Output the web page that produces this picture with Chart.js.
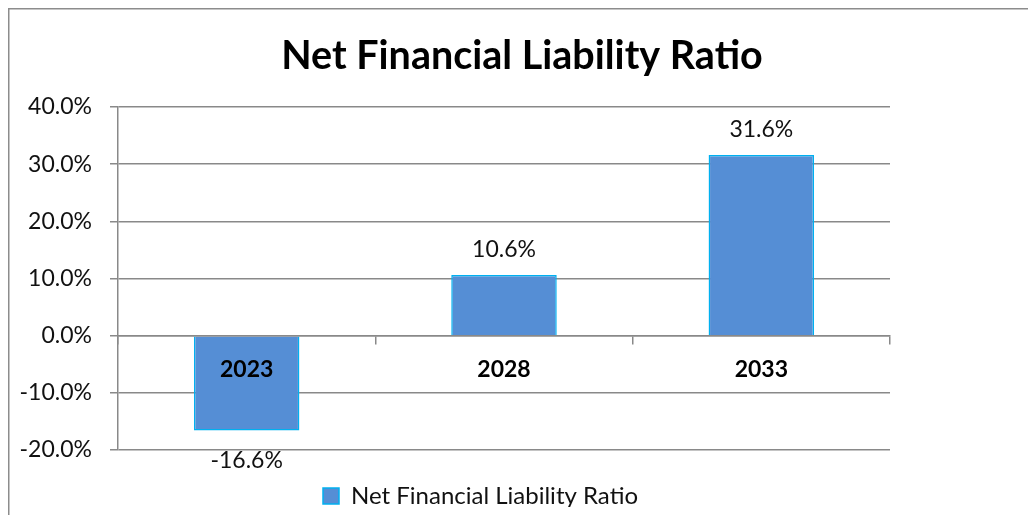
<!DOCTYPE html>
<html>
<head>
<meta charset="utf-8">
<script src="https://cdn.jsdelivr.net/npm/chart.js@4/dist/chart.umd.min.js"></script>
<style>
  html, body { margin: 0; padding: 0; overflow: hidden; background: #fff; }
  #wrap { position: absolute; left: 8px; top: 8px; width: 1028px; height: 515px; }
  canvas { display: block; }
</style>
</head>
<body>
<div id="wrap"><canvas id="chart" width="1028" height="515"></canvas></div>
<script>
// Chart content
const chartTitle = 'Net Financial Liability Ratio';
const seriesName = 'Net Financial Liability Ratio';
const categories = ['2023', '2028', '2033'];
const ratioValues = [-16.6, 10.6, 31.6];          // percent
const yTickValues = [-20, -10, 0, 10, 20, 30, 40]; // percent

const GRID = '#898989';
const FONT = 'Lato, "Open Sans", sans-serif';
const fmtPct = v => v.toFixed(1) + '%';

// Thin grey frame along the top and left edges of the chart box
const framePlugin = {
  id: 'frame',
  beforeDraw(chart) {
    const ctx = chart.ctx;
    ctx.save();
    ctx.strokeStyle = '#8c8c8c';
    ctx.lineWidth = 1.5;
    ctx.beginPath();
    ctx.moveTo(0.75, chart.height);
    ctx.lineTo(0.75, 0.75);
    ctx.lineTo(chart.width, 0.75);
    ctx.stroke();
    ctx.restore();
  }
};

// Keep title centred on the whole box and put the legend under the plot
const placementPlugin = {
  id: 'placement',
  afterLayout(chart) {
    const t = chart.titleBlock;
    if (t) { t.left = 0; t.right = chart.width; t.width = chart.width; }
    const lg = chart.legend;
    if (lg) {
      const pad = lg.options.labels.padding;
      const itemW = lg.lineWidths[0] - pad;
      const boxLeft = 315;
      const w = lg.width;
      lg.left = (2 * boxLeft + itemW - w) / 2;
      lg.right = lg.left + w;
      const h = lg.height;
      lg.top = 476 - pad;
      lg.bottom = lg.top + h;
    }
  }
};

// Value labels above positive bars and below negative bars
const valueLabelPlugin = {
  id: 'valueLabels',
  afterDatasetsDraw(chart) {
    const ctx = chart.ctx;
    const meta = chart.getDatasetMeta(0);
    const data = chart.data.datasets[0].data;
    ctx.save();
    ctx.font = '23px ' + FONT;
    ctx.fillStyle = '#111';
    ctx.textAlign = 'center';
    ctx.textBaseline = 'alphabetic';
    meta.data.forEach((bar, i) => {
      const v = data[i];
      const y = v >= 0 ? bar.y - 18 : bar.y + 37;
      ctx.fillText(fmtPct(v), bar.x, y);
    });
    ctx.restore();
  }
};

new Chart(document.getElementById('chart'), {
  type: 'bar',
  data: {
    labels: categories,
    datasets: [{
      label: seriesName,
      data: ratioValues,
      backgroundColor: '#558ED5',
      borderColor: '#00B0F0',
      borderWidth: 1.5,
      categoryPercentage: 1,
      barPercentage: 0.41
    }]
  },
  options: {
    responsive: false,
    animation: false,
    devicePixelRatio: 1,
    layout: { padding: { left: 0, right: 146, top: 0, bottom: 0 } },
    plugins: {
      title: {
        display: true,
        text: chartTitle,
        color: '#000',
        font: { family: FONT, size: 39.5, weight: 'bold' },
        padding: { top: 25, bottom: 26.6 }
      },
      legend: {
        display: true,
        position: 'bottom',
        maxHeight: 73,
        labels: {
          color: '#111',
          font: { family: FONT, size: 24 },
          boxWidth: 16,
          boxHeight: 16,
          padding: 50
        }
      },
      tooltip: { enabled: false }
    },
    scales: {
      x: {
        type: 'category',
        position: { y: 0 },
        offset: true,
        grid: {
          display: true,
          drawOnChartArea: false,
          drawTicks: true,
          tickLength: 8,
          color: GRID,
          lineWidth: 1.5
        },
        border: { display: true, color: GRID, width: 1.5, z: 1 },
        ticks: {
          z: 1,
          color: '#000',
          padding: 12,
          font: { family: FONT, size: 23, weight: 'bold' }
        }
      },
      y: {
        min: yTickValues[0],
        max: yTickValues[yTickValues.length - 1],
        afterBuildTicks(scale) {
          scale.ticks = yTickValues.map(v => ({ value: v }));
        },
        afterFit(scale) { scale.width = 110; },
        grid: {
          color: GRID,
          lineWidth: 1.5,
          drawTicks: true,
          tickLength: 8
        },
        border: { display: true, color: GRID, width: 1.5 },
        ticks: {
          color: '#111',
          padding: 18,
          font: { family: FONT, size: 23 },
          callback: v => fmtPct(v)
        }
      }
    }
  },
  plugins: [framePlugin, placementPlugin, valueLabelPlugin]
});
</script>
</body>
</html>
